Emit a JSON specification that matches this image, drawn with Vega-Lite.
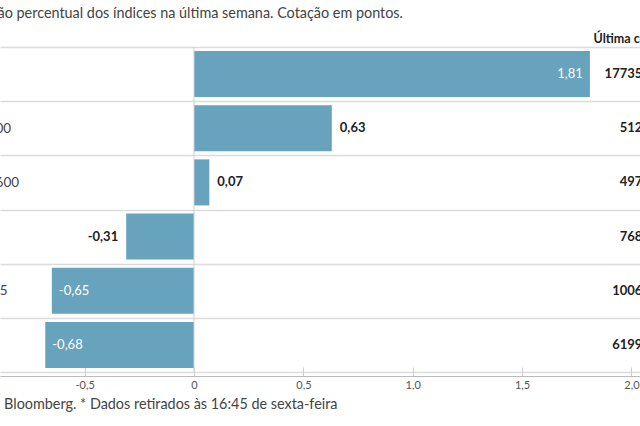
{
  "$schema": "https://vega.github.io/schema/vega-lite/v6.json",
  "width": 640,
  "height": 325,
  "autosize": {"type": "none"},
  "padding": {"left": 0, "right": 0, "top": 47, "bottom": 54},
  "background": "white",
  "title": {
    "text": "Variação percentual dos índices na última semana. Cotação em pontos.",
    "anchor": "start",
    "frame": "group",
    "dx": -41,
    "offset": 11,
    "fontSize": 14.4,
    "font": "Lato",
    "fontWeight": "normal",
    "color": "#444"
  },
  "config": {
    "view": {"stroke": null},
    "font": "Lato",
    "locale": {"number": {"decimal": ",", "thousands": ".", "grouping": [3], "currency": ["", " €"], "minus": "-"}}
  },
  "data": {
    "values": [
      {"indice": "DJIA", "variacao": 1.81, "cotacao": "17735,595"},
      {"indice": "S&P 500", "variacao": 0.63, "cotacao": "5127,53"},
      {"indice": "Stoxx 600", "variacao": 0.07, "cotacao": "4975,53"},
      {"indice": "DAX", "variacao": -0.31, "cotacao": "7681,37"},
      {"indice": "IBEX 35", "variacao": -0.65, "cotacao": "10062,49"},
      {"indice": "FTSE", "variacao": -0.68, "cotacao": "6199,865"}
    ]
  },
  "encoding": {
    "y": {
      "field": "indice", "type": "nominal", "sort": null,
      "scale": {"paddingInner": 0, "paddingOuter": 0},
      "axis": {
        "grid": true, "tickBand": "extent", "gridColor": "#dcdcdc", "gridWidth": 1.5,
        "domain": false, "ticks": false, "tickSize": 0,
        "labelAlign": "left", "labelPadding": 41, "labelFontSize": 13.5, "labelColor": "#444", "labelFont": "Lato",
        "title": "Última cotação", "titleAngle": 0, "titleX": 593, "titleY": -9,
        "titleAlign": "left", "titleBaseline": "middle", "titleFontSize": 12.5, "titleFontWeight": "bold", "titleColor": "#222", "titleFont": "Lato"
      }
    },
    "x": {
      "field": "variacao", "type": "quantitative",
      "scale": {"domain": [-0.887, 2.039], "nice": false, "zero": false},
      "axis": {
        "values": [-0.5, 0, 0.5, 1, 1.5, 2],
        "labelExpr": "datum.value === 0 ? '0' : format(datum.value, '.1f')",
        "domainColor": "#bbb", "tickColor": "#ccc", "tickSize": -9, "labelColor": "#555",
        "labelFontSize": 11, "labelPadding": 12, "labelFlush": false, "grid": false, "offset": 4,
        "title": "Fonte: Bloomberg.  * Dados retirados às 16:45 de sexta-feira",
        "titleX": -40, "titleY": 28, "titleAlign": "left", "titleAnchor": "start", "titleBaseline": "middle",
        "titleFontWeight": "normal", "titleFontSize": 14.4, "titleColor": "#444", "titleFont": "Lato"
      }
    }
  },
  "layer": [
    {
      "mark": {"type": "bar", "color": "#68a3be", "height": {"band": 0.85}}
    },
    {
      "transform": [{"filter": "datum.variacao > 1"}],
      "mark": {"type": "text", "align": "right", "dx": -7, "color": "white", "fontSize": 13},
      "encoding": {
        "text": {"field": "variacao", "type": "quantitative", "format": ".2f"}
      }
    },
    {
      "transform": [{"filter": "datum.variacao < -0.5"}],
      "mark": {"type": "text", "align": "left", "dx": 7, "color": "white", "fontSize": 13},
      "encoding": {
        "text": {"field": "variacao", "type": "quantitative", "format": ".2f"}
      }
    },
    {
      "transform": [{"filter": "datum.variacao >= 0 && datum.variacao <= 1"}],
      "mark": {"type": "text", "align": "left", "dx": 8, "color": "#222", "fontSize": 13, "fontWeight": "bold"},
      "encoding": {
        "text": {"field": "variacao", "type": "quantitative", "format": ".2f"}
      }
    },
    {
      "transform": [{"filter": "datum.variacao < 0 && datum.variacao >= -0.5"}],
      "mark": {"type": "text", "align": "right", "dx": -8, "color": "#222", "fontSize": 13, "fontWeight": "bold"},
      "encoding": {
        "text": {"field": "variacao", "type": "quantitative", "format": ".2f"}
      }
    },
    {
      "mark": {"type": "text", "align": "right", "color": "#222", "fontSize": 13, "fontWeight": "bold"},
      "encoding": {
        "x": {"datum": 2.167, "type": "quantitative"},
        "text": {"field": "cotacao", "type": "nominal"}
      }
    },
    {
      "data": {"values": [{"zero": 0}]},
      "mark": {"type": "rule", "color": "#cfcfcf", "strokeWidth": 1},
      "encoding": {
        "x": {"field": "zero", "type": "quantitative"},
        "y": null
      }
    }
  ]
}
